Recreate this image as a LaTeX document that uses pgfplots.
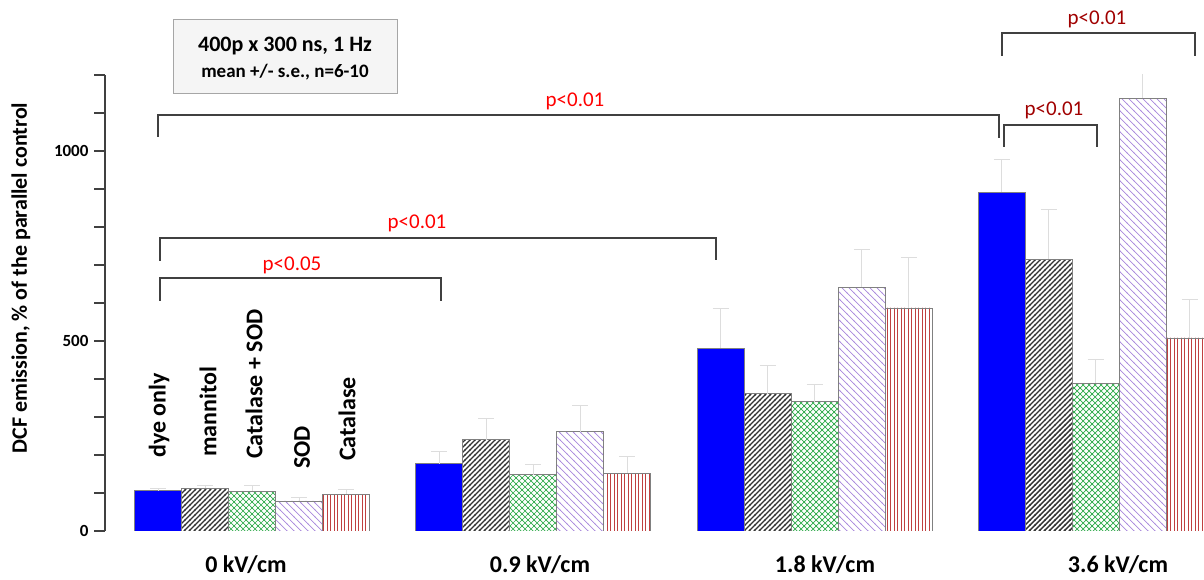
\documentclass[border=0pt]{standalone}
\usepackage{fontspec}
\setmainfont{Carlito}
\usepackage{pgfplots}
\pgfplotsset{compat=1.18}
\usetikzlibrary{patterns}

\definecolor{axgray}{HTML}{404040}
\definecolor{barblue}{HTML}{0000FF}
\definecolor{blkpat}{HTML}{333333}
\definecolor{grnpat}{HTML}{2EAA4A}
\definecolor{purpat}{HTML}{A888DC}
\definecolor{redpat}{HTML}{C04040}
\definecolor{errgray}{HTML}{DDDDDD}
\definecolor{pred}{HTML}{FF0000}
\definecolor{pdred}{HTML}{A00000}

\pgfdeclarepatternformonly{blkdiag}{\pgfqpoint{-1pt}{-1pt}}{\pgfqpoint{6pt}{6pt}}{\pgfqpoint{5pt}{5pt}}{%
  \pgfsetlinewidth{1.4pt}%
  \pgfpathmoveto{\pgfqpoint{-0.5pt}{-0.5pt}}\pgfpathlineto{\pgfqpoint{5.5pt}{5.5pt}}\pgfusepath{stroke}}
\pgfdeclarepatternformonly{purdiag}{\pgfqpoint{-1pt}{-1pt}}{\pgfqpoint{8pt}{8pt}}{\pgfqpoint{7pt}{7pt}}{%
  \pgfsetlinewidth{0.7pt}%
  \pgfpathmoveto{\pgfqpoint{-0.5pt}{7.5pt}}\pgfpathlineto{\pgfqpoint{7.5pt}{-0.5pt}}\pgfusepath{stroke}}
\pgfdeclarepatternformonly{grncross}{\pgfqpoint{-1pt}{-1pt}}{\pgfqpoint{7pt}{7pt}}{\pgfqpoint{6pt}{6pt}}{%
  \pgfsetlinewidth{0.7pt}%
  \pgfpathmoveto{\pgfqpoint{-0.5pt}{-0.5pt}}\pgfpathlineto{\pgfqpoint{6.5pt}{6.5pt}}%
  \pgfpathmoveto{\pgfqpoint{-0.5pt}{6.5pt}}\pgfpathlineto{\pgfqpoint{6.5pt}{-0.5pt}}\pgfusepath{stroke}}
\pgfdeclarepatternformonly{redvert}{\pgfqpoint{0pt}{-1pt}}{\pgfqpoint{3.5pt}{2pt}}{\pgfqpoint{3.5pt}{1pt}}{%
  \pgfsetlinewidth{1.1pt}%
  \pgfpathmoveto{\pgfqpoint{1.75pt}{-0.5pt}}\pgfpathlineto{\pgfqpoint{1.75pt}{1.5pt}}\pgfusepath{stroke}}

\begin{document}
\begin{tikzpicture}
\useasboundingbox (0,0) rectangle (1204pt,580pt);
\begin{axis}[
  at={(105pt,49pt)}, anchor=south west,
  scale only axis, width=1099pt, height=456pt,
  xmin=105, xmax=1204, ymin=0, ymax=1200,
  axis x line*=bottom, axis y line*=left,
  x axis line style={draw=none},
  y axis line style={draw=axgray, line width=1.5pt},
  xtick={246,540,825,1118},
  xticklabels={0 kV/cm, 0.9 kV/cm, 1.8 kV/cm, 3.6 kV/cm},
  major x tick style={draw=none},
  xticklabel style={font=\bfseries\fontsize{24}{24}\selectfont, anchor=center, yshift=-23pt},
  ytick={0,500,1000},
  minor ytick={100,200,300,400,600,700,800,900,1100,1200},
  tick align=outside,
  major tick length=11pt, minor tick length=11pt,
  every tick/.style={draw=axgray, line width=1.2pt},
  yticklabel style={font=\bfseries\fontsize{17}{17}\selectfont, xshift=-2pt},
  /pgf/number format/assume math mode=true,
  /pgf/number format/1000 sep={},
  ybar=0pt, bar width=47pt,
  error bars/y dir=plus, error bars/y explicit,
  error bars/error bar style={draw=errgray, line width=1pt},
  error bars/error mark options={rotate=90, mark size=8pt, draw=errgray, line width=1pt},
]
\addplot[bar shift=0pt, fill=barblue, draw=gray, line width=0.8pt] coordinates {
  (158,106) +- (0,7)
  (439.2,177) +- (0,33)
  (720.5,481) +- (0,104)
  (1001.5,892) +- (0,86)
};
\addplot[bar shift=0pt, pattern=blkdiag, pattern color=blkpat, draw=gray, line width=0.8pt] coordinates {
  (205,113) +- (0,8)
  (486.2,240) +- (0,55)
  (767.5,361) +- (0,74)
  (1048.5,715) +- (0,130)
};
\addplot[bar shift=0pt, pattern=grncross, pattern color=grnpat, draw=gray, line width=0.8pt] coordinates {
  (252,105) +- (0,14)
  (533.2,148) +- (0,28)
  (814.5,340) +- (0,46)
  (1095.5,389) +- (0,61)
};
\addplot[bar shift=0pt, pattern=purdiag, pattern color=purpat, draw=gray, line width=0.8pt] coordinates {
  (299,79) +- (0,10)
  (580.2,261) +- (0,68)
  (861.5,642) +- (0,99)
  (1142.5,1139) +- (0,116)
};
\addplot[bar shift=0pt, pattern=redvert, pattern color=redpat, draw=gray, line width=0.8pt] coordinates {
  (346,97) +- (0,11)
  (627.2,152) +- (0,45)
  (908.5,587) +- (0,132)
  (1189.5,508) +- (0,102)
};
\end{axis}

\begin{scope}[shift={(0,580pt)}, x=1pt, y=-1pt]
  % y label
  \node[rotate=90, font=\bfseries\fontsize{22}{22}\selectfont] at (21,278) {DCF emission, \% of the parallel control};
  % info box
  \draw[draw=gray!70, fill=gray!8, line width=0.8pt] (173,19) rectangle (397,93);
  \node[font=\bfseries\fontsize{22}{22}\selectfont] at (285,46) {400p x 300 ns, 1 Hz};
  \node[font=\bfseries\fontsize{19}{19}\selectfont] at (285,72) {mean +/- s.e., n=6-10};
  % bar labels
  \begin{scope}[every node/.style={rotate=90, anchor=west, inner sep=0pt, font=\bfseries\fontsize{24}{24}\selectfont}]
    \node at (159,458) {dye only};
    \node at (208,457) {mannitol};
    \node at (254,459) {Catalase + SOD};
    \node at (302,469) {SOD};
    \node at (347,461) {Catalase};
  \end{scope}
  % brackets
  \begin{scope}[draw=axgray, line width=1.8pt]
    \draw (160,301) -- (160,278) -- (441,278) -- (441,301);
    \draw (160,261) -- (160,238) -- (716,238) -- (716,260);
    \draw (158,137) -- (158,115) -- (999,115) -- (999,138);
    \draw (1004,147) -- (1004,125) -- (1097,125) -- (1097,147);
    \draw (1002,56) -- (1002,33) -- (1195,33) -- (1195,56);
  \end{scope}
  \begin{scope}[every node/.style={font=\fontsize{21}{21}\selectfont}]
    \node[text=pred] at (292,265) {p<0.05};
    \node[text=pred] at (417,223) {p<0.01};
    \node[text=pred] at (575,101) {p<0.01};
    \node[text=pdred] at (1054,110) {p<0.01};
    \node[text=pdred] at (1097,19) {p<0.01};
  \end{scope}
\end{scope}
\end{tikzpicture}
\end{document}
